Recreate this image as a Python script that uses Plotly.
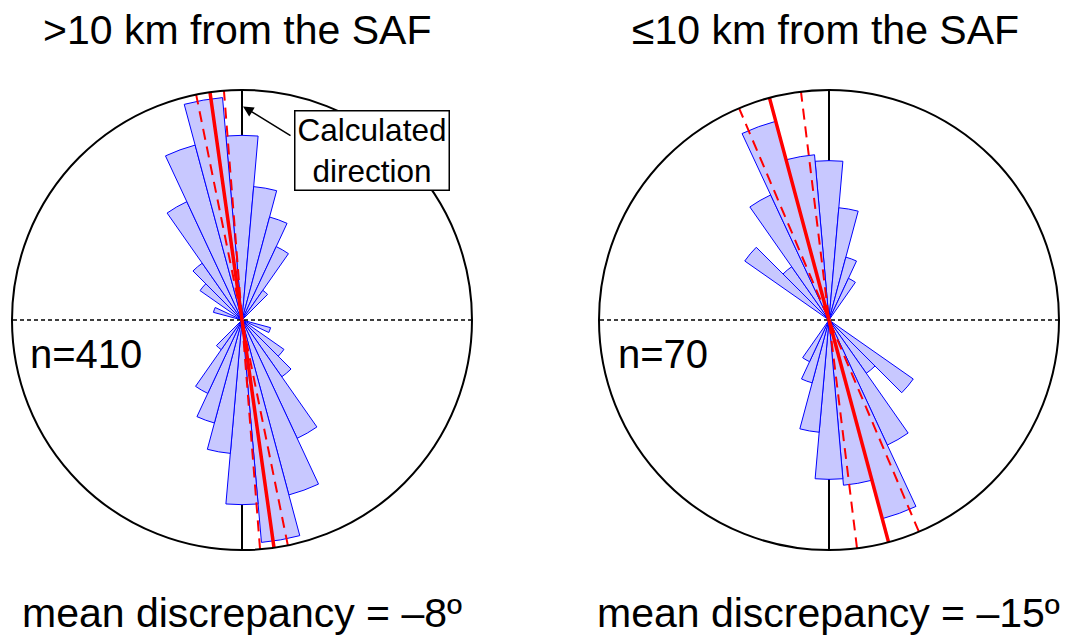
import numpy as np
import plotly.graph_objects as go

# ---------------- data ----------------
# axial bins (10 deg wide), centre angle in degrees clockwise from north
bin_centers = list(range(0, 180, 10))
# counts per axial bin (rose is equal-area: radius ~ sqrt(count))
counts_far = [78, 41, 26, 15, 3, 0, 0, 0, 0, 0, 0, 2, 0, 6, 11, 39, 75, 114]   # >10 km, n=410
counts_near = [12, 6, 2, 1, 0, 0, 0, 0, 0, 0, 0, 0, 0, 5, 2, 9, 20, 13]      # <=10 km, n=70
outer_count_far = 121
outer_count_near = 25
mean_far = -8
conf_far = [-11.5, -4.5]
mean_near = -15
conf_near = [-23, -7]
titles = [">10 km from the SAF", "\u226410 km from the SAF"]
n_labels = ["n=410", "n=70"]
bottom_labels = ["mean discrepancy = \u20138\u00ba", "mean discrepancy = \u201315\u00ba"]

OFF = 8                     # page body margin
W, H = 1072 - OFF, 637 - OFF
FONT = "Liberation Sans, Arial, sans-serif"
FILL = "rgb(200,200,255)"
EDGE = "#0000ff"

fig = go.Figure()

panels = [
    ("polar", counts_far, outer_count_far, mean_far, conf_far),
    ("polar2", counts_near, outer_count_near, mean_near, conf_near),
]

for sp, counts, outer, mean, conf in panels:
    R = np.sqrt(outer)
    th = [c for c, n in zip(bin_centers, counts) if n > 0]
    rr = [np.sqrt(n) for n in counts if n > 0]
    theta = th + [t + 180 for t in th]
    r = rr + rr
    fig.add_trace(go.Barpolar(r=r, theta=theta, width=[10] * len(theta), subplot=sp,
                              marker=dict(color=FILL, line=dict(color=EDGE, width=1)),
                              hoverinfo="skip"))
    # horizontal dotted reference line
    fig.add_trace(go.Scatterpolar(r=[R, 0, R], theta=[90, 90, 270], mode="lines", subplot=sp,
                                  line=dict(color="black", width=1.5, dash="4px,3px"),
                                  hoverinfo="skip"))
    for c in conf:
        fig.add_trace(go.Scatterpolar(r=[R, 0, R], theta=[c + 180, c + 180, c], mode="lines",
                                      subplot=sp,
                                      line=dict(color="red", width=2, dash="11px,7px"),
                                      hoverinfo="skip"))
    fig.add_trace(go.Scatterpolar(r=[R, 0, R], theta=[mean, mean, mean + 180], mode="lines",
                                  subplot=sp, line=dict(color="red", width=3.5),
                                  hoverinfo="skip"))


def px(x):
    return (x - OFF) / W


def py(y):
    return 1 - (y - OFF) / H


def polar_layout(cx, R):
    return dict(
        domain=dict(x=[px(cx - 230), px(cx + 230)], y=[py(550), py(90)]),
        bgcolor="white",
        angularaxis=dict(direction="clockwise", rotation=90, tickvals=[0, 180],
                         showticklabels=False, ticks="", showgrid=True,
                         gridcolor="black", gridwidth=1.5,
                         showline=True, linecolor="black", linewidth=2),
        radialaxis=dict(range=[0, R], showline=False, showgrid=False,
                        showticklabels=False, ticks=""),
    )


annotations = []
for cx, t in zip([237, 825], titles):
    annotations.append(dict(text=t, x=px(cx), y=py(30), xref="paper", yref="paper",
                            xanchor="center", yanchor="middle", showarrow=False,
                            borderpad=0,
                            font=dict(family=FONT, size=41, color="black")))
for x0, t in zip([28, 616], n_labels):
    annotations.append(dict(text=t, x=px(x0), y=py(354), xref="paper", yref="paper",
                            xanchor="left", yanchor="middle", showarrow=False,
                            font=dict(family=FONT, size=40, color="black")))
for cx, t in zip([242, 828], bottom_labels):
    annotations.append(dict(text=t, x=px(cx), y=py(613), xref="paper", yref="paper",
                            xanchor="center", yanchor="middle", showarrow=False,
                            font=dict(family=FONT, size=41, color="black")))
# label box
annotations.append(dict(text="Calculated<br>direction", x=px(371.5), y=py(150.5),
                        xref="paper", yref="paper", xanchor="center", yanchor="middle",
                        showarrow=False, bgcolor="white", bordercolor="black",
                        borderwidth=1.5, borderpad=1, width=151, height=76,
                        valign="middle",
                        font=dict(family=FONT, size=31.5, color="black")))
# arrow
annotations.append(dict(text="", x=px(243), y=py(106.5), xref="paper", yref="paper",
                        showarrow=True, ax=49, ay=30, arrowhead=2, arrowsize=1.4,
                        arrowwidth=1.5, arrowcolor="black", standoff=0))

fig.update_layout(
    width=W, height=H,
    margin=dict(l=0, r=0, t=0, b=0),
    paper_bgcolor="white",
    showlegend=False,
    polar=polar_layout(242, np.sqrt(outer_count_far)),
    polar2=polar_layout(829, np.sqrt(outer_count_near)),
    annotations=annotations,
    font=dict(family=FONT),
)

fig.write_html("out.html")
